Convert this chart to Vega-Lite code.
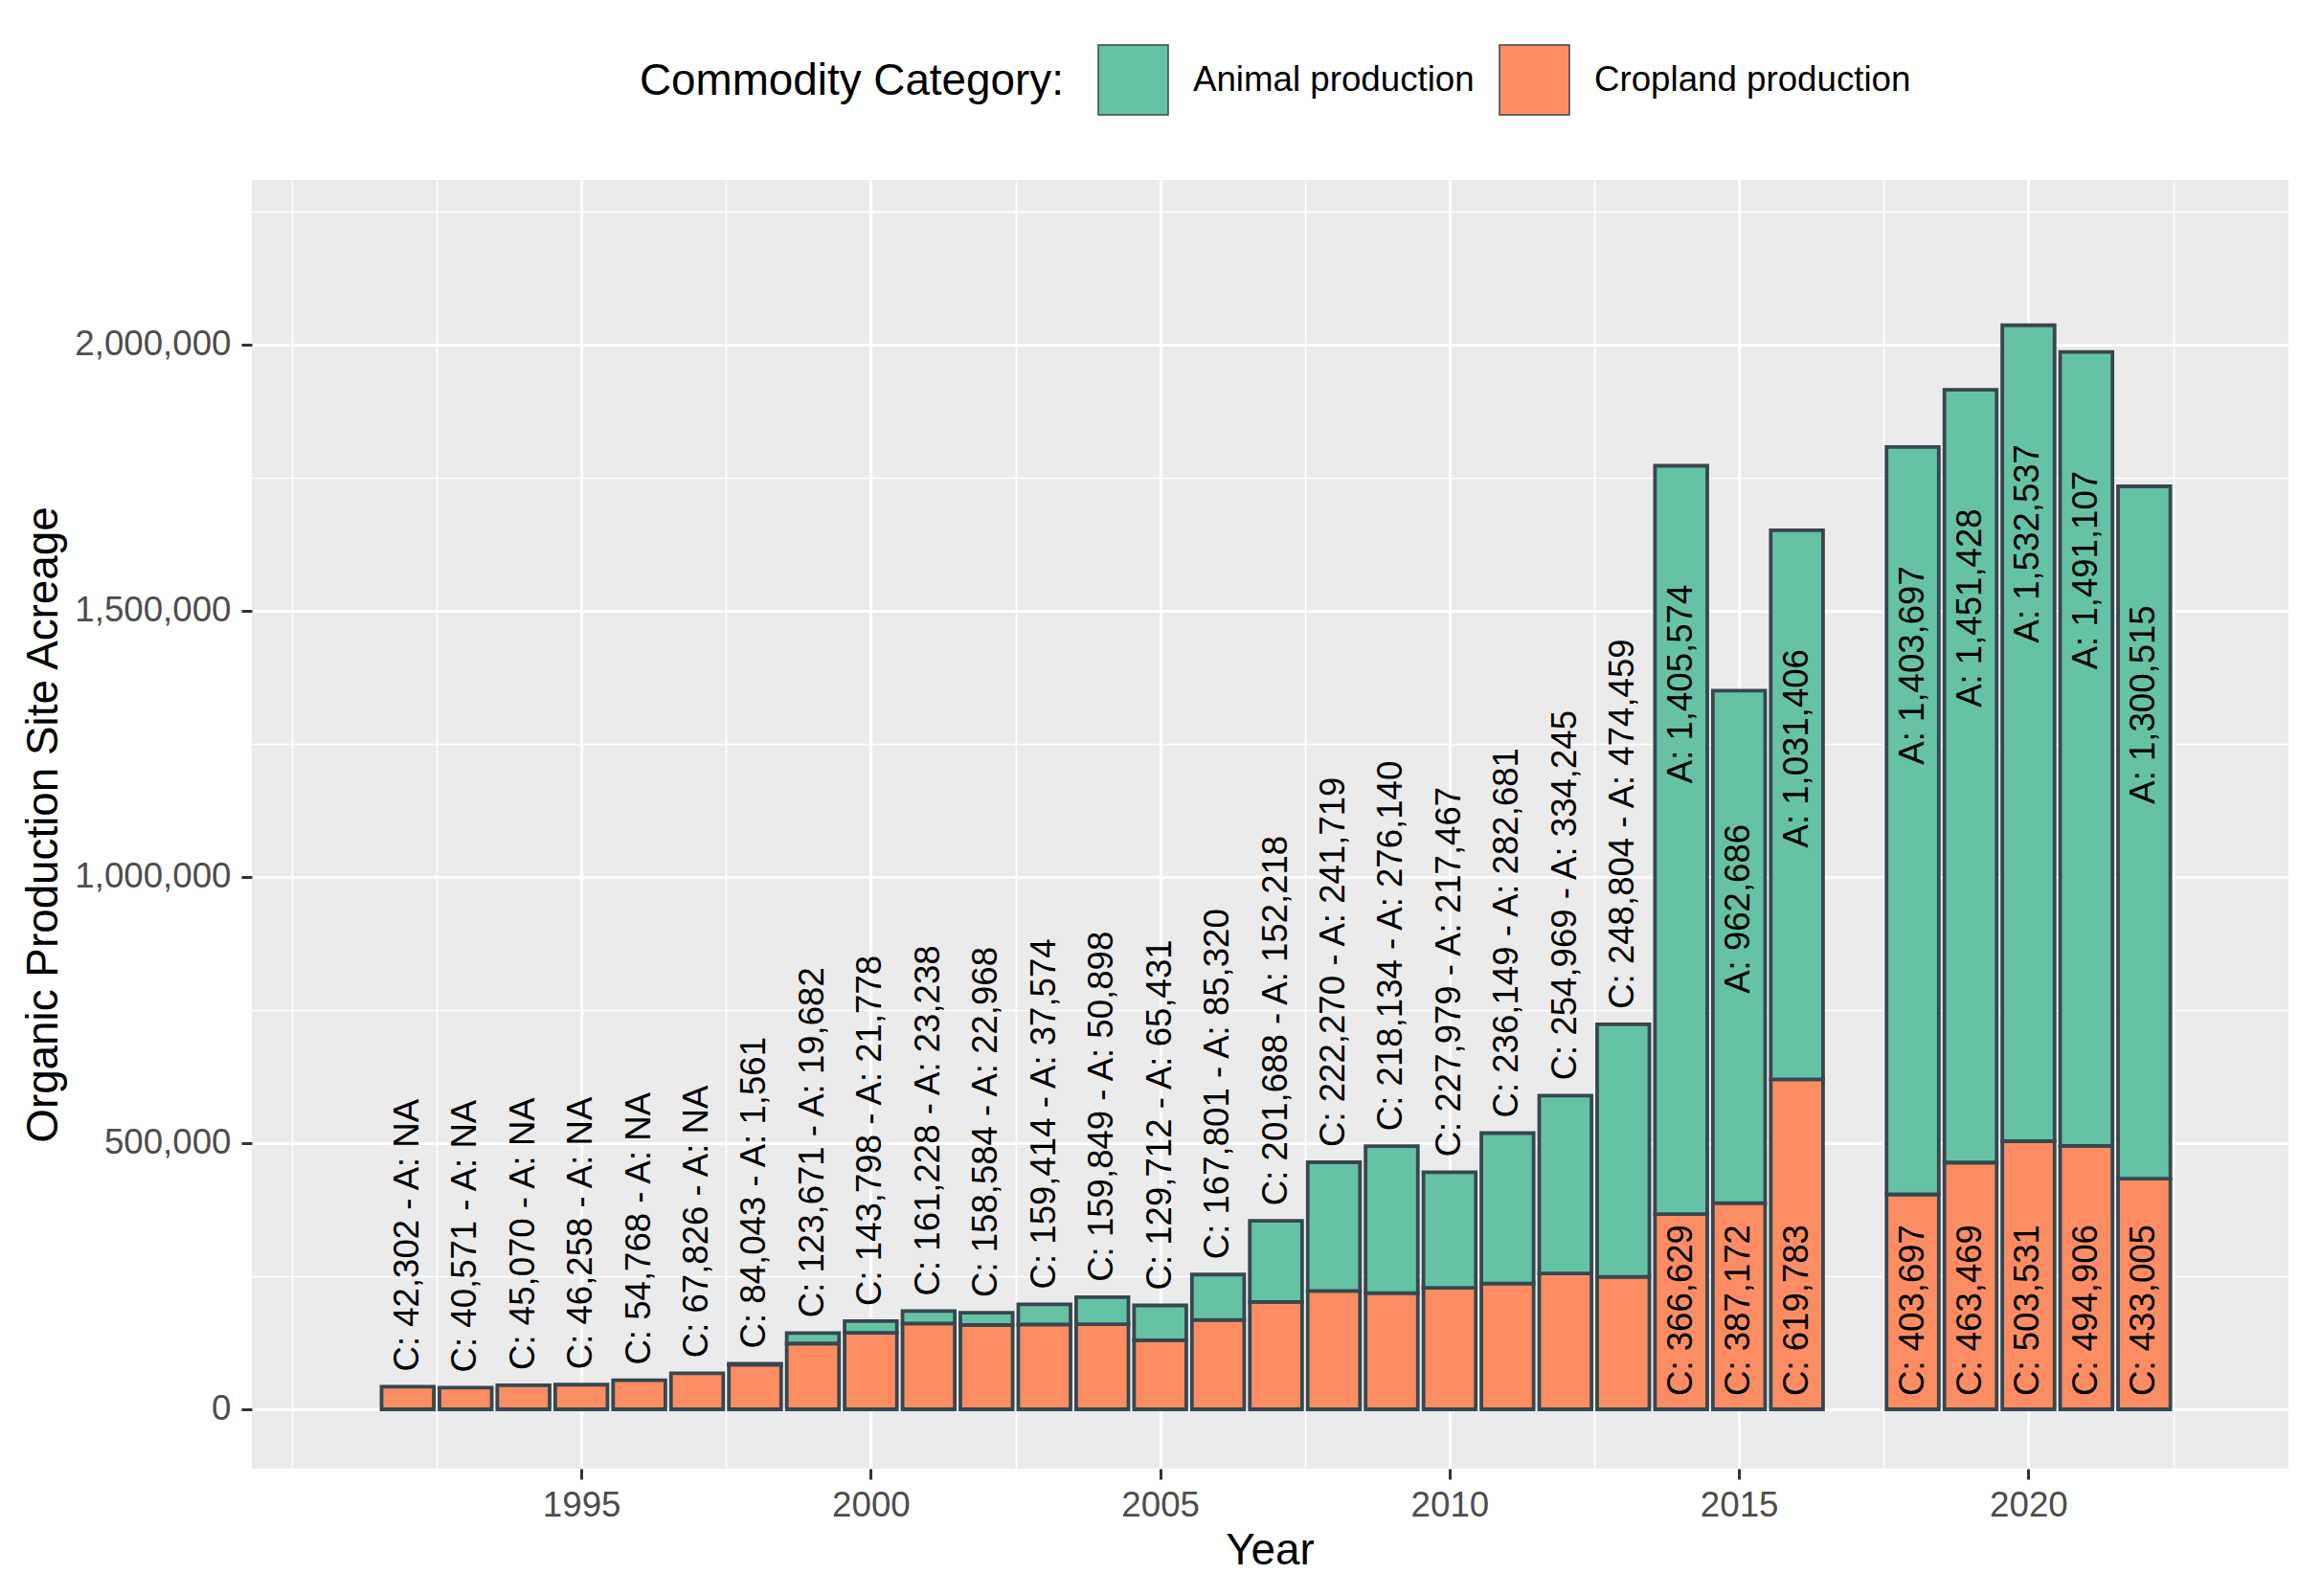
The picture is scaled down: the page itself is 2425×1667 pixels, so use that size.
{
  "$schema": "https://vega.github.io/schema/vega-lite/v6.json",
  "width": 2127,
  "height": 1346,
  "autosize": {"type": "none"},
  "padding": {"left": 263, "top": 188, "right": 35, "bottom": 133},
  "background": "white",
  "data": {
    "values": [
      {"Year": 1992, "Category": "Cropland production", "Acreage": 42302},
      {"Year": 1993, "Category": "Cropland production", "Acreage": 40571},
      {"Year": 1994, "Category": "Cropland production", "Acreage": 45070},
      {"Year": 1995, "Category": "Cropland production", "Acreage": 46258},
      {"Year": 1996, "Category": "Cropland production", "Acreage": 54768},
      {"Year": 1997, "Category": "Cropland production", "Acreage": 67826},
      {"Year": 1998, "Category": "Cropland production", "Acreage": 84043},
      {"Year": 1998, "Category": "Animal production", "Acreage": 1561},
      {"Year": 1999, "Category": "Cropland production", "Acreage": 123671},
      {"Year": 1999, "Category": "Animal production", "Acreage": 19682},
      {"Year": 2000, "Category": "Cropland production", "Acreage": 143798},
      {"Year": 2000, "Category": "Animal production", "Acreage": 21778},
      {"Year": 2001, "Category": "Cropland production", "Acreage": 161228},
      {"Year": 2001, "Category": "Animal production", "Acreage": 23238},
      {"Year": 2002, "Category": "Cropland production", "Acreage": 158584},
      {"Year": 2002, "Category": "Animal production", "Acreage": 22968},
      {"Year": 2003, "Category": "Cropland production", "Acreage": 159414},
      {"Year": 2003, "Category": "Animal production", "Acreage": 37574},
      {"Year": 2004, "Category": "Cropland production", "Acreage": 159849},
      {"Year": 2004, "Category": "Animal production", "Acreage": 50898},
      {"Year": 2005, "Category": "Cropland production", "Acreage": 129712},
      {"Year": 2005, "Category": "Animal production", "Acreage": 65431},
      {"Year": 2006, "Category": "Cropland production", "Acreage": 167801},
      {"Year": 2006, "Category": "Animal production", "Acreage": 85320},
      {"Year": 2007, "Category": "Cropland production", "Acreage": 201688},
      {"Year": 2007, "Category": "Animal production", "Acreage": 152218},
      {"Year": 2008, "Category": "Cropland production", "Acreage": 222270},
      {"Year": 2008, "Category": "Animal production", "Acreage": 241719},
      {"Year": 2009, "Category": "Cropland production", "Acreage": 218134},
      {"Year": 2009, "Category": "Animal production", "Acreage": 276140},
      {"Year": 2010, "Category": "Cropland production", "Acreage": 227979},
      {"Year": 2010, "Category": "Animal production", "Acreage": 217467},
      {"Year": 2011, "Category": "Cropland production", "Acreage": 236149},
      {"Year": 2011, "Category": "Animal production", "Acreage": 282681},
      {"Year": 2012, "Category": "Cropland production", "Acreage": 254969},
      {"Year": 2012, "Category": "Animal production", "Acreage": 334245},
      {"Year": 2013, "Category": "Cropland production", "Acreage": 248804},
      {"Year": 2013, "Category": "Animal production", "Acreage": 474459},
      {"Year": 2014, "Category": "Cropland production", "Acreage": 366629},
      {"Year": 2014, "Category": "Animal production", "Acreage": 1405574},
      {"Year": 2015, "Category": "Cropland production", "Acreage": 387172},
      {"Year": 2015, "Category": "Animal production", "Acreage": 962686},
      {"Year": 2016, "Category": "Cropland production", "Acreage": 619783},
      {"Year": 2016, "Category": "Animal production", "Acreage": 1031406},
      {"Year": 2018, "Category": "Cropland production", "Acreage": 403697},
      {"Year": 2018, "Category": "Animal production", "Acreage": 1403697},
      {"Year": 2019, "Category": "Cropland production", "Acreage": 463469},
      {"Year": 2019, "Category": "Animal production", "Acreage": 1451428},
      {"Year": 2020, "Category": "Cropland production", "Acreage": 503531},
      {"Year": 2020, "Category": "Animal production", "Acreage": 1532537},
      {"Year": 2021, "Category": "Cropland production", "Acreage": 494906},
      {"Year": 2021, "Category": "Animal production", "Acreage": 1491107},
      {"Year": 2022, "Category": "Cropland production", "Acreage": 433005},
      {"Year": 2022, "Category": "Animal production", "Acreage": 1300515}
    ]
  },
  "encoding": {
    "x": {
      "field": "Year",
      "type": "quantitative",
      "title": "Year",
      "scale": {"domain": [1989.39, 2024.41], "nice": false, "zero": false},
      "axis": {
        "values": [1990, 1992.5, 1995, 1997.5, 2000, 2002.5, 2005, 2007.5, 2010, 2012.5, 2015, 2017.5, 2020, 2022.5],
        "labelExpr": "datum.value % 5 === 0 && datum.value > 1991 ? format(datum.value, 'd') : ''",
        "tickOpacity": {"condition": {"test": "datum.value % 5 !== 0 || datum.value < 1991", "value": 0}, "value": 1},
        "gridWidth": {"condition": {"test": "datum.value % 5 !== 0 || datum.value < 1991", "value": 1.6}, "value": 3.2},
        "labelPadding": 9,
        "titleX": 1063,
        "titleY": 85,
        "titleBaseline": "middle"
      }
    }
  },
  "layer": [
    {
      "mark": {"type": "bar", "width": 54.6, "stroke": "#37474F", "strokeWidth": 3.8},
      "encoding": {
        "y": {
          "field": "Acreage",
          "type": "quantitative",
          "stack": "zero",
          "title": "Organic Production Site Acreage",
          "scale": {"domain": [-111500, 2309000], "nice": false, "zero": false},
          "axis": {
            "values": [0, 250000, 500000, 750000, 1000000, 1250000, 1500000, 1750000, 2000000, 2250000],
            "labelExpr": "datum.value % 500000 === 0 ? format(datum.value, ',') : ''",
            "tickOpacity": {"condition": {"test": "datum.value % 500000 !== 0", "value": 0}, "value": 1},
            "gridWidth": {"condition": {"test": "datum.value % 500000 !== 0", "value": 1.6}, "value": 3.2},
            "labelPadding": 11,
            "titleX": -218,
            "titleY": 673,
            "titleAngle": 270,
            "titleAlign": "center",
            "titleBaseline": "middle"
          }
        },
        "color": {
          "field": "Category",
          "type": "nominal",
          "scale": {"domain": ["Animal production", "Cropland production"], "range": ["#66C2A5", "#FC8D62"]},
          "legend": {
            "title": "Commodity Category:",
            "orient": "none",
            "legendX": 405,
            "legendY": -142,
            "direction": "horizontal",
            "titleOrient": "left",
            "titleFontSize": 45.8,
            "titleFontWeight": "normal",
            "titleColor": "black",
            "titleBaseline": "middle",
            "titlePadding": 35,
            "titleLimit": 1000,
            "labelFontSize": 36.7,
            "labelColor": "black",
            "labelOffset": 25,
            "labelLimit": 1000,
            "columnPadding": 23,
            "symbolType": "square",
            "symbolSize": 5329,
            "symbolStrokeColor": "#37474F",
            "symbolStrokeWidth": 1.5,
            "symbolOpacity": 1
          }
        },
        "order": {"field": "Category", "sort": "descending"}
      }
    },
    {
      "transform": [
        {"joinaggregate": [{"op": "sum", "field": "Acreage", "as": "Total"}], "groupby": ["Year"]},
        {"pivot": "Category", "value": "Acreage", "groupby": ["Year", "Total"]}
      ],
      "layer": [
        {
          "transform": [
            {"filter": "datum.Year <= 2013"},
            {"calculate": "'C: ' + format(datum['Cropland production'], ',') + ' - A: ' + (isValid(datum['Animal production']) ? format(datum['Animal production'], ',') : 'NA')", "as": "Label"}
          ],
          "mark": {"type": "text", "angle": 270, "align": "left", "baseline": "middle", "dx": 16, "fontSize": 36.6, "color": "black"},
          "encoding": {
            "y": {"field": "Total", "type": "quantitative", "title": "Organic Production Site Acreage"},
            "text": {"field": "Label", "type": "nominal"}
          }
        },
        {
          "transform": [
            {"filter": "datum.Year >= 2014"},
            {"calculate": "'C: ' + format(datum['Cropland production'], ',')", "as": "Label"}
          ],
          "mark": {"type": "text", "angle": 270, "align": "left", "baseline": "middle", "dx": 14, "fontSize": 36.6, "color": "black"},
          "encoding": {
            "y": {"datum": 0, "type": "quantitative", "title": "Organic Production Site Acreage"},
            "text": {"field": "Label", "type": "nominal"}
          }
        },
        {
          "transform": [
            {"filter": "datum.Year >= 2014"},
            {"calculate": "'A: ' + format(datum['Animal production'], ',')", "as": "Label"}
          ],
          "mark": {"type": "text", "angle": 270, "align": "center", "baseline": "middle", "dx": -228, "fontSize": 36.6, "color": "black"},
          "encoding": {
            "y": {"field": "Total", "type": "quantitative", "title": "Organic Production Site Acreage"},
            "text": {"field": "Label", "type": "nominal"}
          }
        }
      ]
    }
  ],
  "config": {
    "font": "Liberation Sans",
    "view": {"fill": "#EBEBEB", "stroke": null},
    "axis": {
      "domain": false,
      "labelFontSize": 36.7,
      "labelColor": "#4D4D4D",
      "titleFontSize": 45.8,
      "titleFontWeight": "normal",
      "titleColor": "black",
      "tickColor": "#333333",
      "tickWidth": 3,
      "tickSize": 11,
      "gridColor": "#FFFFFF"
    }
  }
}
